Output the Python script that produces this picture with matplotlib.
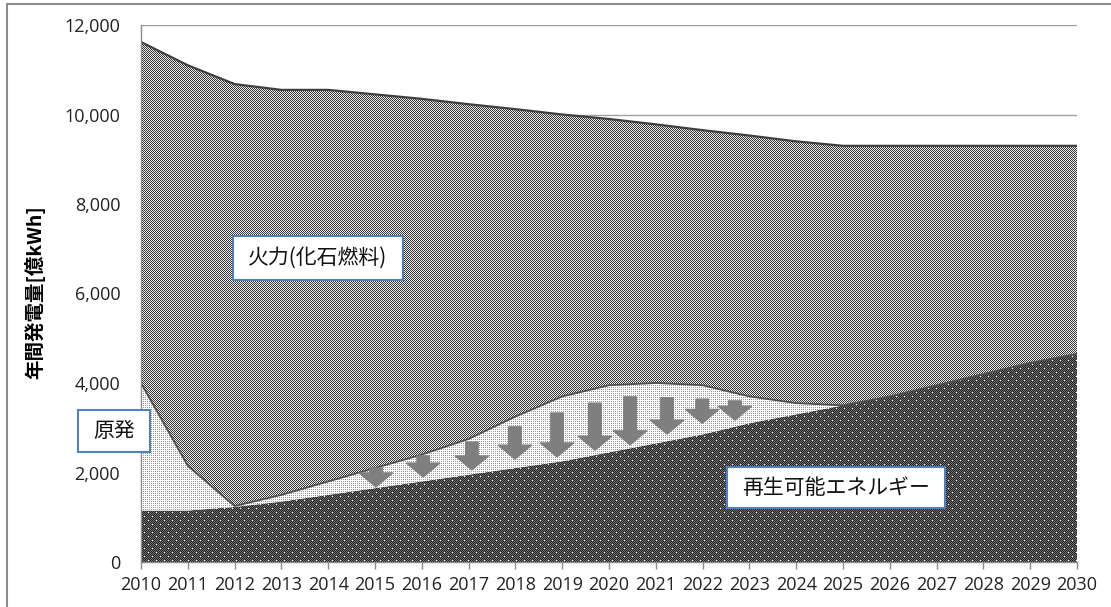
import numpy as np
import matplotlib
matplotlib.use("Agg")
import matplotlib.pyplot as plt
from matplotlib.patches import Polygon, Rectangle
from matplotlib.lines import Line2D

plt.rcParams['font.family'] = ['Open Sans', 'Noto Sans CJK JP', 'DejaVu Sans']

# ---- data (億kWh) ----
years = [2010, 2011, 2012, 2013, 2014, 2015, 2016, 2017, 2018, 2019, 2020,
         2021, 2022, 2023, 2024, 2025, 2026, 2027, 2028, 2029, 2030]
renewable = [1150, 1150, 1230, 1350, 1500, 1650, 1800, 1950, 2100, 2250, 2450,
             2650, 2850, 3100, 3300, 3500, 3700, 3950, 4200, 4450, 4650]
nuclear = [2850, 1000, 20, 150, 300, 450, 600, 800, 1150, 1450, 1500,
           1350, 1100, 600, 250, 0, 0, 0, 0, 0, 0]
thermal = [7620, 8950, 9430, 9050, 8750, 8350, 7950, 7480, 6870, 6300, 5950,
           5780, 5700, 5830, 5850, 5800, 5600, 5350, 5100, 4850, 4650]

# arrows (year position, start value, end value)
arrow_x = [2015.02, 2016.03, 2017.07, 2017.99, 2018.89, 2019.70, 2020.45, 2021.24, 2021.99, 2022.69]
arrow_top = [2100, 2370, 2680, 3020, 3330, 3550, 3690, 3670, 3640, 3600]
arrow_bot = [1680, 1900, 2060, 2300, 2350, 2500, 2620, 2860, 3100, 3170]

yticks = [0, 2000, 4000, 6000, 8000, 10000, 12000]
ytick_labels = ['0', '2,000', '4,000', '6,000', '8,000', '10,000', '12,000']

label_thermal = '火力(化石燃料)'
label_nuclear = '原発'
label_renew = '再生可能エネルギー'
ylabel = '年間発電量[億kWh]'

# ---- figure ----
W, H = 1111, 607
fig = plt.figure(figsize=(W / 100, H / 100), dpi=100)
ax_l, ax_r, ax_t, ax_b = 141, 1077, 25, 562
ax = fig.add_axes([ax_l / W, 1 - ax_b / H, (ax_r - ax_l) / W, (ax_b - ax_t) / H])

x = np.array(years, dtype=float)
r = np.array(renewable, dtype=float)
n = r + np.array(nuclear, dtype=float)
t = n + np.array(thermal, dtype=float)

# textures
pw, ph = ax_r - ax_l, ax_b - ax_t
yy, xx = np.mgrid[0:ph, 0:pw]

def tex(arr):
    return np.dstack([arr, arr, arr])

th = np.where((xx + yy) % 2 == 0, 0.22, 0.92)
nu = np.where((xx % 2 == 0) & (yy % 2 == 0), 0.6, 1.0)
re = np.where((xx + yy) % 2 == 0, 0.12, 0.45)
re = np.where(((xx % 8 == 3) & (yy % 8 == 3)) | ((xx % 8 == 7) & (yy % 8 == 7)), 1.0, re)

def textured(lower, upper, arr):
    verts = np.concatenate([np.column_stack([x, upper]),
                            np.column_stack([x[::-1], lower[::-1]])])
    poly = Polygon(verts, closed=True, facecolor='none', edgecolor='none',
                   transform=ax.transData)
    ax.add_patch(poly)
    im = ax.imshow(tex(arr), extent=[2010, 2030, 0, 12000], origin='upper',
                   aspect='auto', interpolation='nearest', zorder=1)
    im.set_clip_path(poly)

textured(np.zeros_like(r), r, re)
textured(r, n, nu)
textured(n, t, th)

ax.plot(x, t, color='#404040', lw=1.6, zorder=3)
ax.plot(x, n, color='#505050', lw=1.3, zorder=3)

for xa, ya, yb in zip(arrow_x, arrow_top, arrow_bot):
    ax.annotate('', xy=(xa, yb), xytext=(xa, ya),
                arrowprops=dict(arrowstyle='simple,head_length=0.5,head_width=1.2,tail_width=0.45',
                                color='#7f7f7f', shrinkA=0, shrinkB=0, mutation_scale=20),
                zorder=4)

ax.set_xlim(2010, 2030)
ax.set_ylim(0, 12000)
ax.set_yticks(yticks)
ax.set_yticklabels(ytick_labels)
ax.set_xticks(years)
ax.set_xticklabels([str(y) for y in years])
ax.grid(axis='y', color='#a0a0a0', lw=1.0, zorder=0)
ax.set_axisbelow(True)
for s in ['top', 'right']:
    ax.spines[s].set_visible(False)
for s in ['left', 'bottom']:
    ax.spines[s].set_color('#8c8c8c')
    ax.spines[s].set_linewidth(1.0)
    ax.spines[s].set_zorder(5)
ax.tick_params(axis='y', length=0, pad=15, labelsize=13, labelcolor='#222222')
ax.tick_params(axis='x', length=5, width=1, color='#8c8c8c', pad=5, labelsize=13,
               labelcolor='#222222')

ax.set_ylabel(ylabel, fontsize=14, fontweight='bold', family=['Noto Sans CJK JP'])
ax.yaxis.set_label_coords(-(141 - 45) / (ax_r - ax_l), (562 - 292) / (ax_b - ax_t))

def label_box(x0, y0, x1, y1, text):
    fig.add_artist(Rectangle((x0 / W, 1 - y1 / H), (x1 - x0) / W, (y1 - y0) / H,
                             transform=fig.transFigure, facecolor='white',
                             edgecolor='#4f81bd', lw=1.5, zorder=10))
    fig.text((x0 + x1) / 2 / W, 1 - (y0 + y1) / 2 / H, text, ha='center', va='center',
             fontsize=15, family=['Noto Sans CJK JP'], color='#111111', zorder=11)

label_box(233, 236, 403, 280, label_thermal)
label_box(78, 410, 150, 452, label_nuclear)
label_box(727, 467, 945, 508, label_renew)

# chart-area border (top and left visible)
fig.add_artist(Line2D([7 / W, 1.0], [1 - 4 / H, 1 - 4 / H], color='#8c8c8c', lw=1.5,
                      transform=fig.transFigure))
fig.add_artist(Line2D([7 / W, 7 / W], [0, 1 - 4 / H], color='#8c8c8c', lw=1.5,
                      transform=fig.transFigure))

fig.savefig('out.png', dpi=100)
